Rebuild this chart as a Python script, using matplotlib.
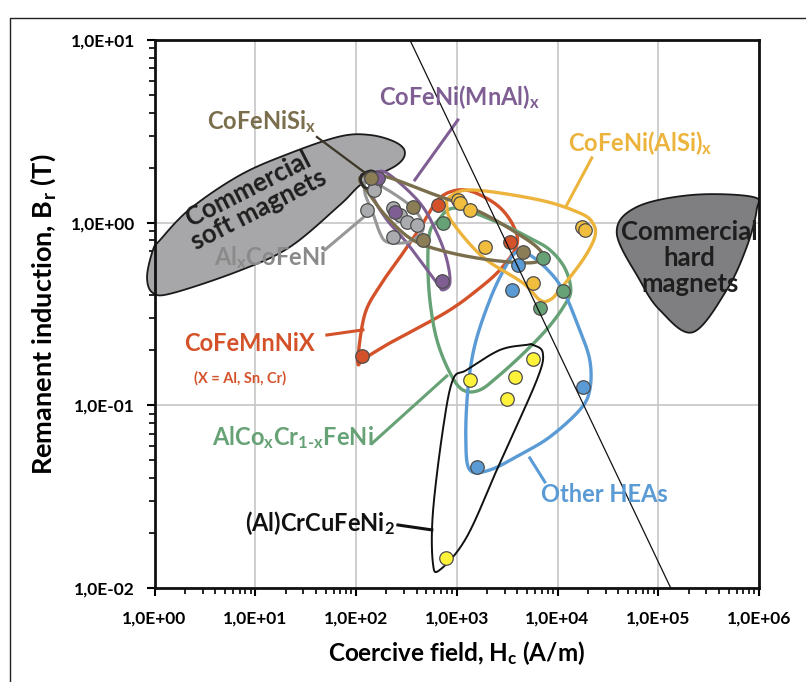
import numpy as np
import matplotlib
matplotlib.use('Agg')
import matplotlib.pyplot as plt
from matplotlib.lines import Line2D
from matplotlib.patches import Polygon

plt.rcParams['font.family'] = ['Lato', 'DejaVu Sans']
plt.rcParams['mathtext.fontset'] = 'custom'
plt.rcParams['mathtext.rm'] = 'Lato:bold'
plt.rcParams['mathtext.it'] = 'Lato:bold'
plt.rcParams['mathtext.bf'] = 'Lato:bold'
plt.rcParams['mathtext.default'] = 'bf'

# ---------------- data (Hc in A/m, Br in T) ----------------
gray_hc = [154, 151, 128, 232, 273, 320, 402, 232]
gray_br = [1.65, 1.51, 1.17, 1.20, 1.10, 1.01, 0.97, 0.835]
purple_hc = [165, 243, 711]
purple_br = [1.76, 1.15, 0.48]
olive_hc = [141, 367, 461, 4530]
olive_br = [1.76, 1.22, 0.80, 0.69]
green_hc = [728, 7150, 6670, 11300]
green_br = [1.0, 0.64, 0.34, 0.42]
red_hc = [115, 649, 3360]
red_br = [0.187, 1.25, 0.78]
gold_hc = [1030, 1070, 1350, 1900, 5690, 17400, 18700]
gold_br = [1.33, 1.28, 1.17, 0.74, 0.47, 0.95, 0.91]
blue_hc = [4040, 3520, 17800, 1580]
blue_br = [0.59, 0.43, 0.126, 0.046]
yellow_hc = [1350, 3770, 5690, 3140, 780]
yellow_br = [0.138, 0.143, 0.179, 0.108, 0.0146]

guide_hc = [343, 1.33e5]
guide_br = [10, 0.01]

x_ticks = [1e0, 1e1, 1e2, 1e3, 1e4, 1e5, 1e6]
x_ticklabels = ['1,0E+00', '1,0E+01', '1,0E+02', '1,0E+03', '1,0E+04', '1,0E+05', '1,0E+06']
y_ticks = [1e-2, 1e-1, 1e0, 1e1]
y_ticklabels = ['1,0E-02', '1,0E-01', '1,0E+00', '1,0E+01']

# region outlines, in decades (log10 Hc, log10 Br)
soft_lx = [-0.074, -0.015, 0.055, 0.352, 0.848, 1.344, 1.840, 2.138, 2.386, 2.485, 2.406, 2.069, 1.840, 1.344, 0.848, 0.184, -0.015]
soft_ly = [-0.297, -0.149, -0.095, 0.075, 0.260, 0.380, 0.472, 0.480, 0.442, 0.387, 0.316, 0.217, 0.097, -0.133, -0.262, -0.385, -0.385]
hard_lx = [4.588, 4.787, 5.342, 5.938, 5.977, 5.878, 5.680, 5.342, 5.015, 4.816]
hard_ly = [-0.056, 0.086, 0.152, 0.141, 0.070, -0.133, -0.368, -0.600, -0.478, -0.314]
purple_lx = [2.207, 2.336, 2.634, 2.803, 2.902, 2.932, 2.862, 2.803, 2.505, 2.307, 2.168, 2.138]
purple_ly = [0.278, 0.261, 0.108, -0.056, -0.204, -0.330, -0.368, -0.330, -0.111, 0.015, 0.141, 0.234]
gray_lx = [2.108, 2.267, 2.505, 2.634, 2.664, 2.564, 2.465, 2.307, 2.237, 2.168, 2.088]
gray_ly = [0.234, 0.195, 0.108, 0.031, -0.040, -0.095, -0.111, -0.106, -0.056, 0.053, 0.163]
olive_lx = [2.039, 2.267, 2.733, 3.229, 3.656, 3.824, 3.854, 3.725, 3.328, 2.902, 2.564, 2.307, 2.138]
olive_ly = [0.245, 0.256, 0.163, 0.059, -0.078, -0.149, -0.193, -0.220, -0.204, -0.160, -0.095, 0.031, 0.152]
dark_lx = [2.059, 2.158, 2.237, 2.197, 2.098, 2.049]
dark_ly = [0.261, 0.283, 0.245, 0.195, 0.190, 0.223]
red_lx = [2.019, 2.088, 2.257, 2.436, 2.634, 2.793, 2.932, 3.130, 3.398, 3.557, 3.596, 3.428, 3.180, 2.932, 2.634, 2.336, 2.088]
red_ly = [-0.762, -0.500, -0.330, -0.190, -0.030, 0.110, 0.168, 0.174, 0.097, -0.012, -0.122, -0.259, -0.379, -0.478, -0.571, -0.659, -0.741]
green_lx = [2.803, 2.981, 3.398, 3.725, 3.924, 4.072, 4.132, 4.072, 3.904, 3.676, 3.428, 3.229, 3.061, 2.932, 2.803, 2.733, 2.713, 2.733]
green_ly = [0.004, 0.080, 0.004, -0.084, -0.149, -0.248, -0.368, -0.450, -0.577, -0.708, -0.833, -0.916, -0.916, -0.822, -0.642, -0.423, -0.204, -0.051]
gold_lx = [2.932, 3.160, 3.824, 4.221, 4.350, 4.370, 4.251, 4.023, 3.924, 3.824, 3.656, 3.259, 2.961, 2.902]
gold_ly = [0.141, 0.179, 0.124, 0.053, -0.002, -0.078, -0.204, -0.368, -0.423, -0.423, -0.330, -0.188, -0.002, 0.086]
blue_lx = [3.596, 3.725, 3.904, 4.053, 4.201, 4.320, 4.320, 4.221, 3.924, 3.626, 3.328, 3.130, 3.090, 3.110, 3.180, 3.328, 3.477]
blue_ly = [-0.160, -0.177, -0.259, -0.368, -0.560, -0.751, -0.916, -1.025, -1.173, -1.271, -1.354, -1.354, -1.189, -0.916, -0.669, -0.423, -0.248]
black_lx = [3.755, 3.854, 3.795, 3.428, 3.100, 2.832, 2.763, 2.763, 2.862, 2.961, 3.100, 3.428, 3.695]
black_ly = [-0.669, -0.713, -0.861, -1.315, -1.720, -1.901, -1.862, -1.589, -1.134, -0.861, -0.806, -0.697, -0.669]

# leader lines (decades): [x0, x1], [y0, y1]
lead_purple = ([3.011, 2.584], [0.562, 0.234])
lead_olive = ([1.612, 2.158], [0.469, 0.245])
lead_gold = ([4.340, 4.092], [0.354, 0.097])
lead_gray = ([1.691, 2.138], [-0.149, 0.059])
lead_red = ([1.711, 2.069], [-0.615, -0.587])
lead_green = ([2.158, 2.902], [-1.209, -0.839])
lead_blue = ([3.874, 3.725], [-1.419, -1.288])
lead_black = ([2.416, 2.753], [-1.655, -1.682])

C_PURPLE = '#7f5f93'
C_OLIVE = '#7a6e4c'
C_GOLD = '#ecb43c'
C_GRAY = '#979797'
C_RED = '#d4522a'
C_GREEN = '#66a275'
C_BLUE = '#5b9bd5'
C_YELLOW = '#fff23a'


def smooth_closed(lx, ly, n=40):
    P = np.column_stack([lx, ly])
    m = len(P)
    out = []
    t = np.linspace(0, 1, n, endpoint=False)[:, None]
    for i in range(m):
        p0, p1, p2, p3 = P[(i - 1) % m], P[i], P[(i + 1) % m], P[(i + 2) % m]
        seg = 0.5 * ((2 * p1) + (-p0 + p2) * t + (2 * p0 - 5 * p1 + 4 * p2 - p3) * t ** 2
                     + (-p0 + 3 * p1 - 3 * p2 + p3) * t ** 3)
        out.append(seg)
    out = np.vstack(out + [out[0][:1]])
    return 10 ** out[:, 0], 10 ** out[:, 1]


fig = plt.figure(figsize=(8.06, 6.82), dpi=100)
ax = fig.add_axes([154.5 / 806, 1 - 588 / 682, (759 - 154.5) / 806, (588 - 40) / 682])
ax.set_xscale('log')
ax.set_yscale('log')
ax.set_xlim(1, 1e6)
ax.set_ylim(0.01, 10)

ax.grid(True, which='major', color='#c6c6c6', lw=1.2, zorder=0)
ax.set_axisbelow(True)

# commercial regions
for lx, ly, fc, z in [(soft_lx, soft_ly, '#a7a7a9', 2), (hard_lx, hard_ly, '#7f7f81', 2)]:
    xs, ys = smooth_closed(lx, ly)
    ax.add_patch(Polygon(np.column_stack([xs, ys]), closed=True, facecolor=fc,
                         edgecolor='#1a1a1a', lw=1.3, zorder=z, clip_on=False))

# group loops
loops = [
    (red_lx, red_ly, C_RED, 2.4),
    (green_lx, green_ly, C_GREEN, 2.4),
    (blue_lx, blue_ly, C_BLUE, 2.4),
    (gold_lx, gold_ly, C_GOLD, 2.4),
    (purple_lx, purple_ly, C_PURPLE, 2.2),
    (gray_lx, gray_ly, C_GRAY, 2.2),
    (olive_lx, olive_ly, C_OLIVE, 2.4),
    (black_lx, black_ly, '#111111', 1.4),
    (dark_lx, dark_ly, '#2a2a2a', 2.0),
]
for lx, ly, c, lw in loops:
    xs, ys = smooth_closed(lx, ly)
    ax.plot(xs, ys, color=c, lw=lw, zorder=3, solid_capstyle='round')

leaders = [(lead_purple, C_PURPLE), (lead_olive, '#3b3627'), (lead_gold, C_GOLD),
           (lead_gray, C_GRAY), (lead_red, C_RED), (lead_green, C_GREEN),
           (lead_blue, C_BLUE), (lead_black, '#111111')]
for (lx, ly), c in leaders:
    ax.plot(10 ** np.array(lx), 10 ** np.array(ly), color=c,
            lw=1.6 if c == '#3b3627' else 2.2, zorder=3)

# points
series = [(gray_hc, gray_br, '#a9abae'), (purple_hc, purple_br, C_PURPLE),
          (olive_hc, olive_br, '#8b7d55'), (green_hc, green_br, C_GREEN),
          (red_hc, red_br, C_RED), (gold_hc, gold_br, '#f0bd3e'),
          (blue_hc, blue_br, C_BLUE), (yellow_hc, yellow_br, C_YELLOW)]
for hc, br, c in series:
    ax.scatter(hc, br, s=95, facecolor=c, edgecolor='#4d4d4d', lw=0.9, zorder=4)

# guide line
ax.plot(guide_hc, guide_br, color='#111111', lw=0.9, zorder=5)

# labels
fs = 17
ax.text(10 ** 3.031, 10 ** 0.688, r'CoFeNi(MnAl)$_{x}$', color=C_PURPLE, fontsize=fs,
        fontweight='bold', ha='center', va='center', zorder=6)
ax.text(10 ** 1.066, 10 ** 0.551, r'CoFeNiSi$_{x}$', color=C_OLIVE, fontsize=fs,
        fontweight='bold', ha='center', va='center', zorder=6)
ax.text(10 ** 4.816, 10 ** 0.436, r'CoFeNi(AlSi)$_{x}$', color=C_GOLD, fontsize=fs,
        fontweight='bold', ha='center', va='center', zorder=6)
ax.text(10 ** 0.98, 10 ** 0.13, 'Commercial\nsoft magnets', color='#1e1e1e', fontsize=18.5,
        fontweight='bold', ha='center', va='center', rotation=27, rotation_mode='anchor',
        linespacing=0.95, zorder=6)
ax.text(10 ** 1.146, 10 ** -0.193, r'Al$_{x}$CoFeNi', color='#8a8a8a', fontsize=fs,
        fontweight='bold', ha='center', va='center', zorder=6)
ax.text(10 ** 5.313, 10 ** -0.193, 'Commercial\nhard\nmagnets', color='#1e1e1e', fontsize=18.5,
        fontweight='bold', ha='center', va='center', linespacing=1.1, zorder=6)
ax.text(10 ** 0.947, 10 ** -0.659, 'CoFeMnNiX', color=C_RED, fontsize=fs,
        fontweight='bold', ha='center', va='center', zorder=6)
ax.text(10 ** 0.848, 10 ** -0.850, '(X = Al, Sn, Cr)', color=C_RED, fontsize=10.5,
        fontweight='bold', ha='center', va='center', zorder=6)
ax.text(10 ** 1.374, 10 ** -1.178, r'AlCo$_{x}$Cr$_{1\text{-}x}$FeNi', color=C_GREEN, fontsize=fs,
        fontweight='bold', ha='center', va='center', zorder=6)
ax.text(10 ** 4.469, 10 ** -1.490, 'Other HEAs', color=C_BLUE, fontsize=fs,
        fontweight='bold', ha='center', va='center', zorder=6)
ax.text(10 ** 1.642, 10 ** -1.644, r'(Al)CrCuFeNi$_{2}$', color='#111111', fontsize=fs,
        fontweight='bold', ha='center', va='center', zorder=6)

# axes styling
ax.set_xticks(x_ticks)
ax.set_xticklabels(x_ticklabels)
ax.set_yticks(y_ticks)
ax.set_yticklabels(y_ticklabels)
ax.xaxis.set_minor_locator(matplotlib.ticker.LogLocator(base=10, subs=np.arange(2, 10)))
ax.yaxis.set_minor_locator(matplotlib.ticker.LogLocator(base=10, subs=np.arange(2, 10)))
ax.xaxis.set_minor_formatter(matplotlib.ticker.NullFormatter())
ax.yaxis.set_minor_formatter(matplotlib.ticker.NullFormatter())
ax.tick_params(which='major', direction='out', length=6, width=1.5, labelsize=12.5, pad=8)
ax.tick_params(axis='x', which='major', pad=10)
ax.tick_params(which='minor', direction='out', length=4, width=1.2)
for lab in ax.get_xticklabels() + ax.get_yticklabels():
    lab.set_fontweight('bold')
for sp in ax.spines.values():
    sp.set_linewidth(2)
    sp.set_color('#111111')

ax.set_xlabel(r'Coercive field, H$_{c}$ (A/m)', fontsize=17.5, fontweight='bold', labelpad=9)
ax.set_ylabel(r'Remanent induction, B$_{r}$ (T)', fontsize=19.5, fontweight='bold', labelpad=9)

# outer frame
fig.add_artist(Line2D([10 / 806, 10 / 806, 1.0], [0.0, 1 - 18 / 682, 1 - 18 / 682],
                      color='#222222', lw=1.0, transform=fig.transFigure))

fig.savefig('out.png', dpi=100)
